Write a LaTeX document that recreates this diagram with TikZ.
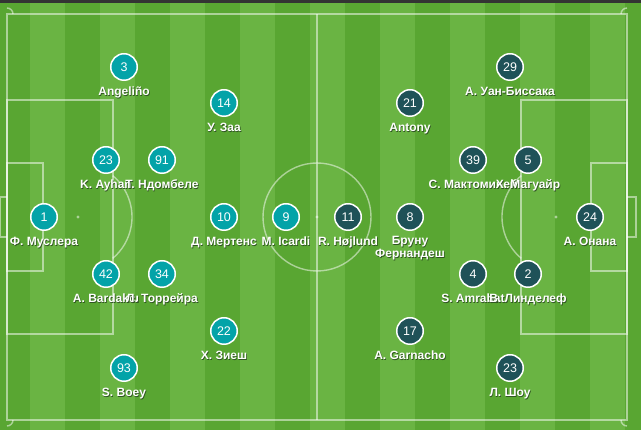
\documentclass[tikz,border=0pt]{standalone}
\usepackage{fontspec}
\setmainfont{Liberation Sans}
\usepackage{xcolor}
\usepackage{tikz}
\usetikzlibrary{positioning}
\definecolor{pitchdark}{RGB}{89,166,50}
\definecolor{pitchlight}{RGB}{106,180,67}
\definecolor{topbar}{RGB}{51,51,51}
\definecolor{hometeal}{RGB}{3,163,168}
\definecolor{awaydark}{RGB}{31,82,88}
\definecolor{shadowgreen}{RGB}{48,84,34}
\newcommand{\shd}[1]{\makebox[0pt][l]{\hspace{0.7pt}\raisebox{-0.9pt}{\textcolor{shadowgreen}{#1}}}#1}
\tikzstyle{pitchline} = [draw=white,
                         draw opacity=0.5,
                         line width=1.4pt,
                        ]
\tikzstyle{spot} = [fill=white,
                    fill opacity=0.5,
                   ]
\tikzstyle{home} = [circle,
                    minimum size=26.5pt,
                    inner sep=0pt,
                    fill=hometeal,
                    draw=white,
                    line width=1.5pt,
                    text=white,
                    font=\fontsize{12.5}{12.5}\selectfont,
                   ]
\tikzstyle{away} = [home,
                    fill=awaydark,
                   ]
\tikzstyle{pname} = [inner sep=0pt,
                     text=white,
                     text height=9pt,
                     text depth=2.5pt,
                     font=\bfseries\fontsize{12}{13}\selectfont,
                    ]
\tikzstyle{pname2} = [inner sep=0pt,
                      text=white,
                      align=center,
                      font=\bfseries\fontsize{12}{13}\selectfont,
                     ]
\begin{document}
\begin{tikzpicture}[x=1pt, y=-1pt, node distance=5.5pt]
\useasboundingbox (0,0) rectangle (641,430);

% pitch
\fill[pitchdark] (0,0) rectangle (641,430);
\foreach \sx in {30,100,...,590}
    \fill[pitchlight] (\sx,3) rectangle ++(35,427);
\fill[topbar] (0,0) rectangle (641,3);

\draw[pitchline] (7,14) rectangle (627,420);
\draw[pitchline] (317,14) -- (317,420);
\draw[pitchline] (317,217) circle[radius=54];
\fill[spot] (317,217) circle[radius=1.6];
\draw[pitchline] (13,14) arc[start angle=0, end angle=-90, radius=6];
\draw[pitchline] (621,14) arc[start angle=180, end angle=270, radius=6];
\draw[pitchline] (13,420) arc[start angle=0, end angle=90, radius=6];
\draw[pitchline] (621,420) arc[start angle=180, end angle=90, radius=6];
% left end
\draw[pitchline] (7,100) rectangle (113,334);
\draw[pitchline] (7,163) rectangle (43,271);
\draw[pitchline] (7,197) -- (0.7,197) -- (0.7,237) -- (7,237);
\fill[spot] (78,217) circle[radius=1.6];
\draw[pitchline] ([shift={(-50:54)}]78,217) arc[start angle=-50, end angle=50, radius=54];
% right end
\draw[pitchline] (627,100) rectangle (521,334);
\draw[pitchline] (627,163) rectangle (591,271);
\draw[pitchline] (627,197) -- (636,197) -- (636,237) -- (627,237);
\fill[spot] (556,217) circle[radius=1.6];
\draw[pitchline] ([shift={(130:54)}]556,217) arc[start angle=130, end angle=230, radius=54];

% home side
\node (home3) [home] at (124,67) {3};
\node (home14) [home] at (224,103) {14};
\node (home23) [home] at (106,160) {23};
\node (home91) [home] at (162,160) {91};
\node (home1) [home] at (44,217) {1};
\node (home10) [home] at (224,217) {10};
\node (home9) [home] at (286,217) {9};
\node (home42) [home] at (106,274) {42};
\node (home34) [home] at (162,274) {34};
\node (home22) [home] at (224,331) {22};
\node (home93) [home] at (124,368) {93};

\node (home3n) [pname, below=of home3] {\shd{Angeliño}};
\node (home14n) [pname, below=of home14] {\shd{У. Заа}};
\node (home23n) [pname, below=of home23] {\shd{K. Ayhan}};
\node (home91n) [pname, below=of home91] {\shd{Т. Ндомбеле}};
\node (home1n) [pname, below=of home1] {\shd{Ф. Муслера}};
\node (home10n) [pname, below=of home10] {\shd{Д. Мертенс}};
\node (home9n) [pname, below=of home9] {\shd{M. Icardi}};
\node (home42n) [pname, below=of home42] {\shd{A. Bardakcı}};
\node (home34n) [pname, below=of home34] {\shd{Л. Торрейра}};
\node (home22n) [pname, below=of home22] {\shd{Х. Зиеш}};
\node (home93n) [pname, below=of home93] {\shd{S. Boey}};

% away side
\node (away29) [away] at (510,67) {29};
\node (away21) [away] at (410,103) {21};
\node (away39) [away] at (473,160) {39};
\node (away5) [away] at (528,160) {5};
\node (away11) [away] at (348,217) {11};
\node (away8) [away] at (410,217) {8};
\node (away24) [away] at (590,217) {24};
\node (away4) [away] at (473,274) {4};
\node (away2) [away] at (528,274) {2};
\node (away17) [away] at (410,331) {17};
\node (away23) [away] at (510,368) {23};

\node (away29n) [pname, below=of away29] {\shd{А. Уан-Биссака}};
\node (away21n) [pname, below=of away21] {\shd{Antony}};
\node (away39n) [pname, below=of away39] {\shd{С. Мактоминей}};
\node (away5n) [pname, below=of away5] {\shd{Х. Магуайр}};
\node (away11n) [pname, below=of away11] {\shd{R. Højlund}};
\node (away8n) [pname2, below=of away8] {\shd{Бруну}\\\shd{Фернандеш}};
\node (away24n) [pname, below=of away24] {\shd{А. Онана}};
\node (away4n) [pname, below=of away4] {\shd{S. Amrabat}};
\node (away2n) [pname, below=of away2] {\shd{В. Линделеф}};
\node (away17n) [pname, below=of away17] {\shd{A. Garnacho}};
\node (away23n) [pname, below=of away23] {\shd{Л. Шоу}};

\end{tikzpicture}
\end{document}
